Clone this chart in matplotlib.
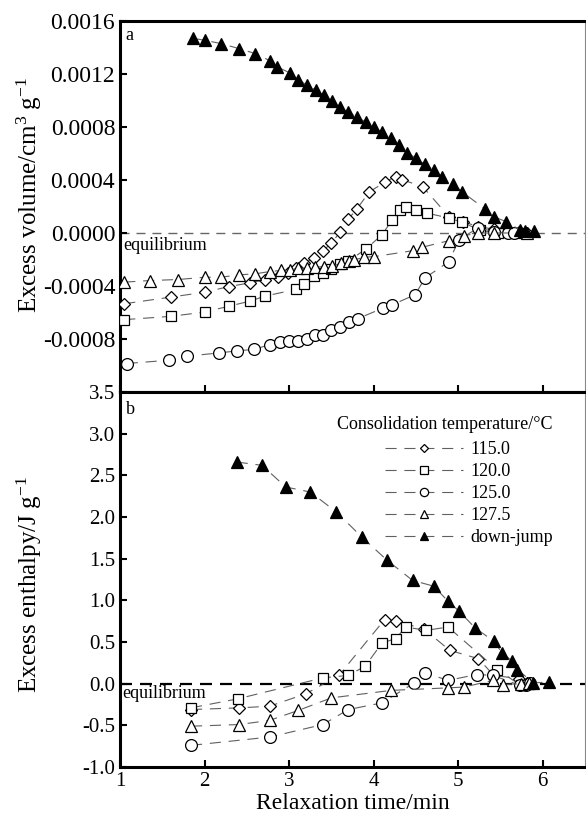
import matplotlib
matplotlib.use('Agg')
import matplotlib.pyplot as plt
from matplotlib.lines import Line2D
from matplotlib.ticker import FormatStrFormatter, FixedLocator

plt.rcParams['font.family'] = ['Liberation Serif', 'DejaVu Serif']
plt.rcParams['mathtext.fontset'] = 'custom'
plt.rcParams['mathtext.rm'] = 'Liberation Serif'
plt.rcParams['mathtext.it'] = 'Liberation Serif:italic'


# Excess volume (panel a)
vol_115_t = [1.05, 1.60, 2.00, 2.29, 2.54, 2.71, 2.87, 2.99, 3.08, 3.18, 3.30, 3.40, 3.50, 3.60,
             3.70, 3.80, 3.95, 4.14, 4.26, 4.34, 4.58, 4.89, 5.06, 5.24, 5.42, 5.60, 5.72, 5.81]
vol_115 = [-0.000534, -0.000484, -0.000447, -0.000404, -0.000376, -0.000353, -0.000334, -0.000304,
           -0.000263, -0.000226, -0.000188, -0.000133, -0.000078, 0.000005, 0.000105, 0.00018,
           0.000311, 0.000386, 0.000426, 0.000401, 0.00035, 0.000123, 0.000085, 0.000047, 0.00003,
           0.00001, 0.000005, 0.0]

vol_120_t = [1.05, 1.60, 2.00, 2.29, 2.54, 2.71, 3.08, 3.18, 3.30, 3.40, 3.50, 3.60, 3.70, 3.91,
             4.10, 4.22, 4.31, 4.38, 4.50, 4.63, 4.89, 5.05, 5.26, 5.47, 5.64, 5.74]
vol_120 = [-0.000654, -0.000629, -0.000597, -0.000552, -0.000514, -0.000477, -0.000426, -0.000384,
           -0.000326, -0.000304, -0.000271, -0.000233, -0.000213, -0.00012, -0.000013, 0.0001,
           0.000173, 0.000193, 0.000173, 0.00015, 0.000113, 0.00008, 0.00002, 0.0, 0.0, 0.0]

vol_125_t = [1.08, 1.58, 1.79, 2.17, 2.38, 2.59, 2.77, 2.89, 3.00, 3.10, 3.21, 3.31, 3.40, 3.50,
             3.60, 3.71, 3.81, 4.11, 4.22, 4.49, 4.61, 4.89, 5.01, 5.24, 5.42, 5.59, 5.66]
vol_125 = [-0.000985, -0.00096, -0.00093, -0.000905, -0.00089, -0.000878, -0.000842, -0.000823,
           -0.000815, -0.000815, -0.000797, -0.000767, -0.000772, -0.000735, -0.00071, -0.000672,
           -0.000647, -0.000567, -0.000542, -0.000466, -0.000338, -0.000216, -0.00005, 0.00004,
           0.00001, 0.0, 0.0]

vol_1275_t = [1.05, 1.35, 1.69, 2.00, 2.19, 2.41, 2.60, 2.77, 2.90, 3.01, 3.11, 3.21, 3.31, 3.41,
              3.51, 3.61, 3.71, 3.77, 3.89, 4.01, 4.47, 4.57, 4.89, 5.07, 5.24, 5.42, 5.81]
vol_1275 = [-0.000371, -0.000359, -0.000351, -0.000334, -0.000334, -0.000316, -0.000308, -0.000291,
            -0.000283, -0.000278, -0.000266, -0.000266, -0.000259, -0.000253, -0.000251, -0.000229,
            -0.000215, -0.000203, -0.000183, -0.000178, -0.000133, -0.000108, -0.000058, -0.00002,
            0.0, 0.0, 0.0]

vol_jump_t = [1.86, 2.00, 2.20, 2.41, 2.60, 2.77, 2.86, 3.01, 3.11, 3.21, 3.32, 3.41, 3.51, 3.60,
              3.70, 3.80, 3.91, 4.00, 4.10, 4.21, 4.30, 4.40, 4.50, 4.61, 4.71, 4.81, 4.94, 5.04,
              5.32, 5.42, 5.57, 5.73, 5.79, 5.90]
vol_jump = [0.00147, 0.001454, 0.001429, 0.001391, 0.001354, 0.001301, 0.001253, 0.001208,
            0.001158, 0.001115, 0.001078, 0.001038, 0.000995, 0.00095, 0.000912, 0.000875,
            0.000837, 0.000799, 0.000762, 0.000719, 0.000664, 0.000606, 0.000564, 0.000519,
            0.000474, 0.000426, 0.000373, 0.000313, 0.00018, 0.000123, 0.000085, 0.000023,
            0.000017, 0.000012]

# Excess enthalpy (panel b)
ent_115_t = [1.84, 2.41, 2.77, 3.20, 3.59, 4.13, 4.26, 4.59, 4.90, 5.24, 5.42, 5.72, 5.81]
ent_115 = [-0.31, -0.29, -0.27, -0.12, 0.10, 0.77, 0.75, 0.66, 0.40, 0.30, 0.10, 0.06, 0.01]

ent_120_t = [1.84, 2.40, 3.40, 3.70, 3.90, 4.10, 4.26, 4.38, 4.62, 4.88, 5.46, 5.74, 5.84]
ent_120 = [-0.29, -0.18, 0.07, 0.10, 0.21, 0.49, 0.54, 0.68, 0.64, 0.68, 0.17, -0.02, 0.0]

ent_125_t = [1.84, 2.77, 3.40, 3.70, 4.10, 4.48, 4.61, 4.88, 5.22, 5.41, 5.73, 5.80, 5.85]
ent_125 = [-0.74, -0.64, -0.49, -0.31, -0.23, 0.01, 0.13, 0.04, 0.11, 0.10, -0.02, -0.02, 0.01]

ent_1275_t = [1.84, 2.41, 2.77, 3.11, 3.50, 4.21, 4.88, 5.07, 5.41, 5.53, 5.74, 5.84]
ent_1275 = [-0.51, -0.49, -0.44, -0.32, -0.17, -0.08, -0.05, -0.04, 0.04, -0.01, 0.0, 0.01]

ent_jump_t = [2.38, 2.68, 2.96, 3.25, 3.56, 3.86, 4.16, 4.46, 4.71, 4.88, 5.01, 5.20, 5.42, 5.52,
              5.64, 5.70, 5.89, 6.08]
ent_jump = [2.66, 2.62, 2.36, 2.30, 2.06, 1.76, 1.48, 1.24, 1.17, 0.99, 0.87, 0.67, 0.51, 0.37,
            0.27, 0.17, 0.01, 0.02]

legend_title = 'Consolidation temperature/°C'
series_labels = ['115.0', '120.0', '125.0', '127.5', 'down-jump']

markers = ['D', 's', 'o', '^', '^']
msizes = [6.5, 7.5, 8.5, 8.5, 8]
faces = ['white', 'white', 'white', 'white', 'black']

label_fs = 17
line_col = '#606060'
dash = (10, 7)

fig = plt.figure(figsize=(5.86, 8.16), dpi=100)
ax_a = fig.add_axes([0.2048, 0.5196, 0.7935, 0.4547])
ax_b = fig.add_axes([0.2048, 0.0600, 0.7935, 0.4596])

vol_sets = [(vol_115_t, vol_115), (vol_120_t, vol_120), (vol_125_t, vol_125),
            (vol_1275_t, vol_1275), (vol_jump_t, vol_jump)]
ent_sets = [(ent_115_t, ent_115), (ent_120_t, ent_120), (ent_125_t, ent_125),
            (ent_1275_t, ent_1275), (ent_jump_t, ent_jump)]

# zero lines first so the markers sit on top
ax_a.axhline(0, color='#666666', lw=1.0, dashes=(6.5, 5), zorder=1)
ax_b.axhline(0, color='black', lw=1.6, dashes=(5.4, 3.6), zorder=1)

for i in range(5):
	t, v = vol_sets[i]
	ax_a.plot(t, v, color=line_col, lw=0.8, dashes=dash, marker=markers[i], ms=msizes[i],
	          mfc=faces[i], mec='black', mew=0.9, zorder=3)
	t, v = ent_sets[i]
	ax_b.plot(t, v, color=line_col, lw=0.8, dashes=dash, marker=markers[i], ms=msizes[i],
	          mfc=faces[i], mec='black', mew=0.9, zorder=3, label=series_labels[i])

for ax in (ax_a, ax_b):
	ax.set_xlim(1, 6.5)
	ax.xaxis.set_major_locator(FixedLocator([1, 2, 3, 4, 5, 6]))
	ax.tick_params(direction='in', length=5, width=1.5, labelsize=15, top=False, right=False)
	ax.spines['left'].set_linewidth(2.2)
	ax.spines['bottom'].set_linewidth(2.2)
	ax.spines['top'].set_linewidth(2.2)
	ax.spines['right'].set_linewidth(0.8)
	ax.spines['right'].set_color('#888888')

ax_a.set_ylim(-0.0012, 0.0016)
ax_a.yaxis.set_major_locator(FixedLocator([-0.0008, -0.0004, 0.0, 0.0004, 0.0008, 0.0012, 0.0016]))
ax_a.yaxis.set_major_formatter(FormatStrFormatter('%.4f'))
ax_a.tick_params(axis='x', labelbottom=False)
ax_a.tick_params(axis='y', labelsize=17)
ax_a.set_ylabel('Excess volume/cm$^{3}$ g$^{-1}$', fontsize=18)
ax_a.yaxis.set_label_coords(-0.163, 0.532)
ax_a.text(0.012, 0.985, 'a', transform=ax_a.transAxes, fontsize=13, va='top')
ax_a.text(0.008, -0.00003, 'equilibrium', fontsize=13, va='top',
          transform=ax_a.get_yaxis_transform(), zorder=2)

ax_b.set_ylim(-1.0, 3.5)
ax_b.yaxis.set_major_locator(FixedLocator([-1.0, -0.5, 0.0, 0.5, 1.0, 1.5, 2.0, 2.5, 3.0, 3.5]))
ax_b.yaxis.set_major_formatter(FormatStrFormatter('%.1f'))
ax_b.set_ylabel('Excess enthalpy/J g$^{-1}$', fontsize=18)
ax_b.yaxis.set_label_coords(-0.163, 0.487)
ax_b.set_xlabel('Relaxation time/min', fontsize=label_fs)
ax_b.xaxis.set_label_coords(0.5, -0.068)
ax_b.text(0.012, 0.975, 'b', transform=ax_b.transAxes, fontsize=13, va='top')
ax_b.text(0.004, -0.015, 'equilibrium', fontsize=13, va='top',
          transform=ax_b.get_yaxis_transform(), zorder=2)

handles = []
for i in range(5):
	handles.append(Line2D([], [], color=line_col, lw=0.8, dashes=dash, marker=markers[i],
	                      ms=msizes[i] * 0.7, mfc=faces[i], mec='black', mew=0.9))
leg = ax_b.legend(handles, series_labels, title=legend_title, loc='upper left',
                  bbox_to_anchor=(0.44, 0.97), frameon=False, fontsize=13, title_fontsize=13,
                  handlelength=4.3, handletextpad=0.4, labelspacing=0.28, borderpad=0.2)
leg._legend_box.align = 'right'
leg._legend_box.sep = 6

fig.savefig('out.png', dpi=100)
